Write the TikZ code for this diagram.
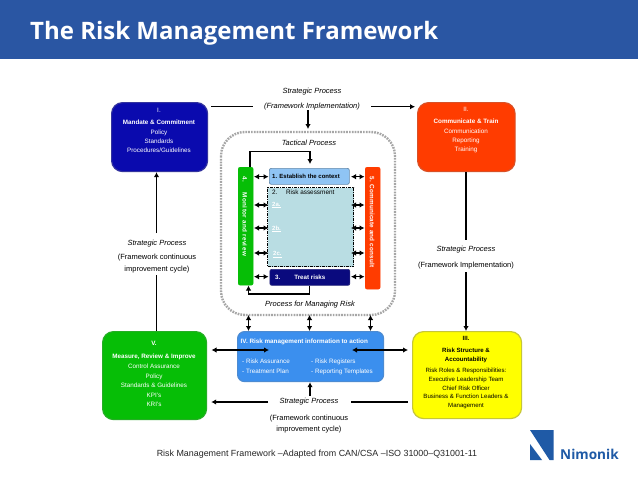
\documentclass[tikz,border=0pt]{standalone}
\usepackage{fontspec}
\setmainfont{Liberation Sans}
\newfontfamily\titlefont{Open Sans}
\usetikzlibrary{arrows.meta,calc}
\definecolor{hdr}{HTML}{2A56A3}
\definecolor{logoblue}{HTML}{1F5AA6}
\definecolor{navyb}{HTML}{0A0AAE}
\definecolor{redb}{HTML}{FF3C00}
\definecolor{greenb}{HTML}{06BE06}
\definecolor{blueb}{HTML}{3B8FEE}
\definecolor{yellowb}{HTML}{FFFF00}
\definecolor{lightb}{HTML}{8FC4F4}
\definecolor{paleb}{HTML}{B9DDE3}
\definecolor{darknavy}{HTML}{0A0A7E}
\tikzset{
  x=1pt,y=-1pt,
  bigbox/.style={rounded corners=11pt,line width=1.2pt,inner sep=0pt,anchor=north west},
  lab/.style={font=\fontsize{6.3}{9.2}\selectfont,align=center,inner sep=0pt},
  strat/.style={font=\fontsize{7.5}{11.5}\selectfont\itshape,align=center,inner sep=0pt},
  stratb/.style={font=\fontsize{7.5}{11.5}\selectfont,align=center,inner sep=0pt},
  conn/.style={line width=1.4pt,-{Latex[length=5pt,width=5.5pt]}},
  conn2/.style={line width=1.4pt,{Latex[length=5pt,width=5.5pt]}-{Latex[length=5pt,width=5.5pt]}},
  plainl/.style={line width=1.4pt},
  innerline/.style={line width=1.1pt},
}
\newcommand{\boxat}[6]{% name, x1,y1,x2,y2, style
  \node[bigbox,#6,minimum width=#4pt-#2pt,minimum height=#5pt-#3pt] (#1) at (#2,#3) {};}
\begin{document}
\begin{tikzpicture}
\useasboundingbox (0,0) rectangle (638,479);
\fill[white] (0,0) rectangle (638,479);
\fill[hdr] (0,0) rectangle (638,59);
\node[anchor=west,inner sep=0pt,text=white,font=\titlefont\fontsize{24}{28}\selectfont\bfseries] (title) at (30,33.5) {The Risk Management Framework};

% dashed frame
\draw[draw=gray!70,line width=2.4pt,dash pattern=on 1.7pt off 1.1pt,rounded corners=24pt] (221,132) rectangle (395,315);
\coordinate (frameTop) at (308,129);
\coordinate (frameB1) at (248.5,315);
\coordinate (frameB2) at (309.5,315);
\coordinate (frameB3) at (370.5,315);

% big boxes
\boxat{b1}{111}{102}{207}{171}{fill=navyb,draw=navyb!65!gray}
\boxat{b2}{417}{102}{514.5}{171}{fill=redb,draw=redb!70!gray}
\boxat{b5}{102}{331}{206}{419}{fill=greenb,draw=greenb!75!gray}
\boxat{b3}{412}{331}{521}{418}{fill=yellowb,draw=yellowb!55!gray}
\node[bigbox,rounded corners=7pt,fill=blueb,draw=blueb!75!gray,minimum width=146pt,minimum height=50pt] (b4) at (237,331) {};

\node[lab,text=white] (t1) at (159,130.5) {I.\\[3pt]\textbf{Mandate \& Commitment}\\Policy\\Standards\\Procedures/Guidelines};
\node[lab,text=white] (t2) at (466,130) {II.\\[3pt]\textbf{Communicate \& Train}\\Communication\\Reporting\\Training};
\node[lab,text=white,font=\fontsize{6.3}{9.6}\selectfont] (t5) at (154,374) {\textbf{V.}\\[4pt]\textbf{Measure, Review \& Improve}\\Control Assurance\\Policy\\Standards \& Guidelines\\KPI's\\KRI's};
\node[lab,text=black,font=\fontsize{6.1}{8.9}\selectfont] (t3) at (466,372.5) {\textbf{III.}\\[4pt]\textbf{Risk Structure \&}\\\textbf{Accountability}\\[1.5pt]Risk Roles \& Responsibilities:\\Executive Leadership Team\\Chief Risk Officer\\Business \& Function Leaders \&\\Management};
\node[lab,anchor=west,text=white] (t4a) at (240.5,341.5) {\textbf{IV. Risk management information to action}};
\node[lab,anchor=north west,text=white,align=left,font=\fontsize{6.3}{10}\selectfont] (t4b) at (242,358.5) {- Risk Assurance\\- Treatment Plan};
\node[lab,anchor=north west,text=white,align=left,font=\fontsize{6.3}{10}\selectfont] (t4c) at (311,358.5) {- Risk Registers\\- Reporting Templates};

% inner bars and boxes
\node[bigbox,rounded corners=2pt,fill=greenb,draw=greenb,line width=.4pt,minimum width=15pt,minimum height=118pt] (bar4) at (238,167) {};
\node[bigbox,rounded corners=2pt,fill=redb,draw=redb,line width=.4pt,minimum width=15pt,minimum height=122pt] (bar5) at (365,167) {};
\node[lab,text=white,rotate=-90,anchor=west,font=\fontsize{6.3}{7}\selectfont\bfseries\addfontfeature{LetterSpace=6}] (t4l) at (245,176) {4.\hspace{11pt}Monitor and review};
\node[lab,text=white,rotate=-90,anchor=west,font=\fontsize{6.3}{7}\selectfont\bfseries\addfontfeature{LetterSpace=3}] (t5l) at (372,176.5) {5. Communicate and consult};

\node[bigbox,rounded corners=2pt,fill=lightb,draw=lightb!70!black,line width=.7pt,minimum width=80pt,minimum height=16pt] (s1) at (269,168) {};
\node[lab,anchor=west,font=\fontsize{6}{7}\selectfont\bfseries,text=black] (s1t) at (272,176.5) {1. Establish the context};
\node[bigbox,rounded corners=0pt,fill=paleb,draw=black,line width=1.1pt,dash pattern=on 3pt off 1pt on 1pt off 1pt,minimum width=86pt,minimum height=79pt] (s2) at (267,187) {};
\node[lab,anchor=west,font=\fontsize{6.4}{7}\selectfont,text=black] (s2t) at (272,192.5) {2.\hspace{8.5pt}Risk assessment};
\node[lab,anchor=west,font=\fontsize{6}{7}\selectfont\bfseries,text=white] (s2a) at (272,205) {\underline{2a.}};
\node[lab,anchor=west,font=\fontsize{6}{7}\selectfont\bfseries,text=white] (s2b) at (272,229) {\underline{2b.}};
\node[lab,anchor=west,font=\fontsize{6}{7}\selectfont\bfseries,text=white] (s2c) at (273,254.5) {\underline{2c.}};
\node[bigbox,rounded corners=2pt,fill=darknavy,draw=darknavy!70!gray,line width=.7pt,minimum width=80pt,minimum height=16pt] (s3) at (269.5,269) {};
\node[lab,anchor=west,font=\fontsize{6.2}{7}\selectfont\bfseries,text=white] (s3t) at (275,277) {3.\hspace{14pt}Treat risks};

% strategic labels
\node[strat,font=\fontsize{7.5}{11}\selectfont\itshape] (ltop) at (312,99) {Strategic Process\\[4pt](Framework Implementation)};
\node[stratb] (lleft) at (157,256.5) {\textit{Strategic Process}\\[2.5pt](Framework continuous\\improvement cycle)};
\node[stratb] (lright) at (466,258) {\textit{Strategic Process}\\[4.5pt](Framework Implementation)};
\node[stratb] (lbot) at (309,416) {\textit{Strategic Process}\\[5pt](Framework continuous\\improvement cycle)};
\node[strat] (ltac) at (309,143) {Tactical Process};
\node[strat] (lpro) at (310,305) {Process for Managing Risk};

% caption
\node[inner sep=0pt,font=\fontsize{8.9}{11}\selectfont,text=black!85] (cap) at (317,454) {Risk Management Framework –Adapted from CAN/CSA –ISO 31000–Q31001-11};

% logo
\fill[logoblue] (530,430) -- (553.5,430) -- (553.5,460) -- (549.5,460) -- cycle;
\fill[logoblue] (530,444) -- (530,460) -- (542,460) -- cycle;
\node[anchor=west,inner sep=0pt,text=logoblue,font=\titlefont\fontsize{13.6}{16}\selectfont\bfseries] (logo) at (560,454) {Nimonik};

% outer connectors
\coordinate (a1) at (211,106.7); \coordinate (a2) at (253,106.7);
\draw[plainl] (a1) -- (a2);
\coordinate (a3) at (371,106.7);
\draw[conn] (a3) -- ([xshift=-2pt]a3 -| b2.west);
\coordinate (a4) at (308,110);
\draw[conn] (a4) -- (frameTop);
\coordinate (a5) at (156.5,233); \draw[conn] (a5) -- (a5 |- b1.south);
\coordinate (a6) at (156.5,275); \draw[plainl] (a6) -- (a6 |- b5.north);
\coordinate (a7) at (466,240); \draw[plainl] (a7 |- b2.south) -- (a7);
\coordinate (a8) at (466,272); \draw[conn] (a8) -- (a8 |- b3.north);
\coordinate (a9) at (268,402); \draw[conn] (a9) -- ([xshift=4pt]a9 -| b5.east);
\coordinate (a10) at (351,402); \draw[plainl] (a10) -- ([xshift=-4pt]a10 -| b3.west);
\coordinate (a11) at (310,396); \draw[conn] (a11) -- (a11 |- b4.south);
\coordinate (a12) at (211.5,350); \coordinate (a13) at (269,350); \draw[conn2] (a12) -- (a13);
\coordinate (a14) at (352,350); \coordinate (a15) at (408,350); \draw[conn2] (a14) -- (a15);
\draw[conn2] (frameB1) -- (frameB1 |- b4.north);
\draw[conn2] (frameB2) -- (frameB2 |- b4.north);
\draw[conn2] (frameB3) -- (frameB3 |- b4.north);

% inner connectors
\draw[conn,innerline] (250,167) -- (250,151.7) -- (310,151.7) -- (310,164);
\draw[conn,innerline] (s3.south) -- (s3.south |- 0,294) -- (248.5,294) -- (248.5,285.5);
\foreach \y in {176.7,205,228,253,276.7}{
  \draw[conn2,innerline] (254,\y) -- (268.5,\y);
  \draw[conn2,innerline] (351,\y) -- (364.5,\y);
}
\end{tikzpicture}
\end{document}
